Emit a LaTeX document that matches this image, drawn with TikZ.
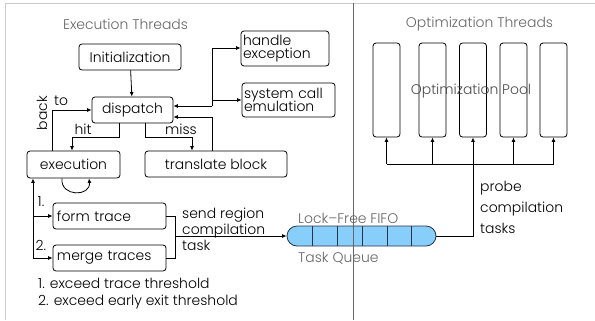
\documentclass[tikz,border=0pt]{standalone}
\usepackage{fontspec}
\setmainfont{Poppins}[UprightFont=* Light]
\usetikzlibrary{arrows.meta}
\definecolor{qblue}{RGB}{135,206,250}
\definecolor{qline}{RGB}{40,50,70}
\begin{document}
\begin{tikzpicture}[x=1bp,y=-1bp,
  font=\fontsize{14}{16}\selectfont,
  box/.style={draw, rounded corners=3bp, line width=0.8bp, inner sep=2bp},
  lbox/.style={box, align=left, text width=#1},
  arr/.style={-{Latex[length=4.5bp,width=4bp]}, line width=0.8bp},
  ln/.style={line width=0.8bp},
  ttl/.style={text=black!60},
  col/.style={draw, rounded corners=3bp, line width=0.8bp, minimum width=27bp, minimum height=94bp, inner sep=0pt},
]
\useasboundingbox (0,0) rectangle (595,320);
\draw[black!20, line width=0.8bp] (595,3) -- (5,3) -- (5,320);

% titles
\node[ttl] (tex) at (125.5,24) {Execution Threads};
\node[ttl] (top) at (479.5,24) {Optimization Threads};

% execution side boxes
\node[box, minimum width=102bp, minimum height=26bp] (init) at (130,57) {Initialization};
\node[box, minimum width=81bp, minimum height=26bp] (disp) at (132.5,110) {dispatch};
\node[lbox=84bp, minimum height=35bp, inner sep=2bp] (hand) at (285,48.5) {handle\\[-3bp]exception};
\node[lbox=89bp, minimum height=34bp, inner sep=2bp] (sys) at (288.5,100) {system call\\[-3bp]emulation};
\node[box, minimum width=93bp, minimum height=27bp] (exe) at (73.5,164.5) {execution};
\node[box, minimum width=142bp, minimum height=26bp] (tra) at (216,164) {translate block};
\node[lbox=105bp, minimum height=26bp, inner sep=4bp] (form) at (109.5,216) {form trace};
\node[lbox=105bp, minimum height=26bp, inner sep=4bp] (merge) at (109.5,258) {merge traces};

% arrows
\draw[arr] (init) -- (disp);
\coordinate (b1) at (212,106);
\coordinate (bt) at (212,48);
\coordinate (bs) at (212,100);
\draw[arr] (b1) -- (disp.east |- b1);
\draw[ln] (bt) -- (b1);
\draw[arr] (bt) -- (hand.west |- bt);
\draw[arr] (bs) -- (sys.west |- bs);
\draw[arr] (tra.north -| 212,0) -- (212,117) -- (disp.east |- 0,117);
% hit / miss
\draw[arr] (disp.south -| 119,0) -- (119,137) -- (72,137) -- (exe.north -| 72,0);
\draw[arr] (disp.south -| 145,0) -- (145,137) -- (192,137) -- (tra.north -| 192,0);
\node (hit) at (83,129) {hit};
\node (miss) at (181,129) {miss};
% back to
\draw[arr] (exe.north -| 52,0) -- (52,110) -- (disp.west);
\node[rotate=90] (back) at (42,113) {back};
\node (to) at (61,101) {to};
% self loop
\draw[arr] (exe.south -| 62,0) .. controls (60,197) and (91,197) .. (exe.south -| 89,0);
% left vertical
\coordinate (lv) at (33,258);
\draw[arr] (lv) -- (exe.south -| lv);
\draw[arr] (33,216) -- (form.west);
\draw[arr] (lv) -- (merge.west);
\node (n1) at (41,202) {1.};
\node (n2) at (41,245) {2.};
% bracket
\draw[ln] (form.east) -- (175,216) -- (175,258) -- (merge.east);
\node[align=left, anchor=west, inner sep=0pt] (send) at (182,229) {send region\\compilation\\task};
\node[anchor=west, inner sep=0pt] (ex1) at (38,283) {1. exceed trace threshold};
\node[anchor=west, inner sep=0pt] (ex2) at (38,302) {2. exceed early exit threshold};

% queue
\node[draw=qline, fill=qblue, line width=0.8bp, rounded corners=10bp, minimum width=149bp, minimum height=20bp, inner sep=0pt] (q) at (361.5,236) {};
\foreach \xx in {312,337,362,387,411} \draw[qline, line width=0.8bp] (\xx,226) -- (\xx,246);
\draw[arr] (175,236) -- (q.west);
\node[ttl, anchor=west, inner sep=0pt] (lf) at (298,218) {Lock--Free FIFO};
\node[ttl, anchor=west, inner sep=0pt] (tq) at (298,258) {Task Queue};

% pool
\foreach \i/\xx in {1/386.5,2/432.5,3/473,4/513.5,5/553.5} {
  \node[col] (c\i) at (\xx,90) {};
}
\node[text=black!70] (pool) at (471,91) {Optimization Pool};
\coordinate (hb) at (473,164);
\draw[ln] (q.east) -- (473,236) -- (hb);
\draw[ln] (c1.south |- hb) -- (c5.south |- hb);
\foreach \i in {1,...,5} \draw[arr] (c\i.south |- hb) -- (c\i.south);
\node[align=left, anchor=west, inner sep=0pt] (probe) at (480,207) {probe\\[5bp]compilation\\[5bp]tasks};

% divider
\draw[black!60, line width=1bp] (353,3) -- (353,320);
\end{tikzpicture}
\end{document}
